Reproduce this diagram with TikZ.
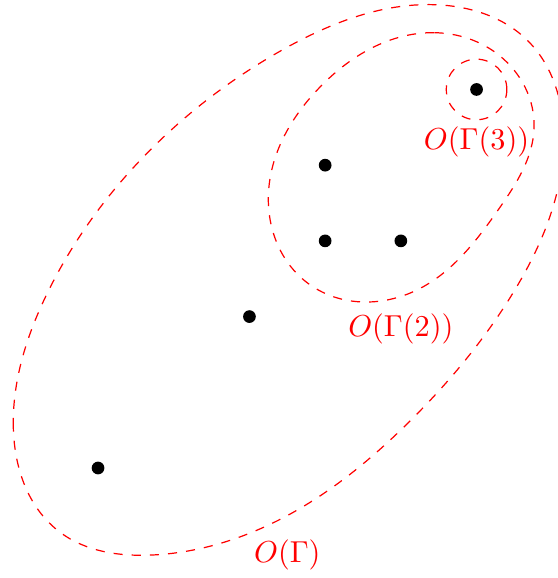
\documentclass[tikz,border=0pt]{standalone}
\usepackage{tikz}
\usetikzlibrary{positioning,calc,hobby}
\tikzset{
  pt/.style={circle, fill=black, inner sep=0pt, minimum size=4.2pt},
  orbit/.style={red, dashed},
  lbl/.style={red}
}
\begin{document}
\begin{tikzpicture}[x=0.878cm, y=0.878cm, use Hobby shortcut]
            \useasboundingbox (-1.295,-1.453) rectangle (6.063,6.182);
            \node[pt] (p0) at (0,0) {};
            \node[pt] (p1) at (2,2) {};
            \node[pt] (p2) at (3,3) {};
            \node[pt] (p3) at (4,3) {};
            \node[pt] (p4) at (3,4) {};
            \node[pt] (p5) at (5,5) {};
            \draw[orbit, closed=true] (-1.12,0.6) .. (-0.5,-0.85) .. (0.7,-1.15) .. (2.46,-0.65) .. (4.1,0.6) .. (5.48,2.31) .. (6.15,4.3) .. (5.7,5.62) .. (4.44,6.12) .. (2.43,5.52) .. (0.78,4.29) .. (-0.67,2.31);
            \draw[orbit, closed=true] (4.44,5.75) .. (2.93,5.03) .. (2.25,3.6) .. (2.8,2.42) .. (4.21,2.35) .. (5.3,3.43) .. (5.76,4.5) .. (5.3,5.45);
            \draw[orbit] (p5) circle (0.4);
            \node[lbl] (lab3) at (5,4.31) {$O(\Gamma(3))$};
            \node[lbl] (lab2) at (4,1.84) {$O(\Gamma(2))$};
            \node[lbl] (lab1) at (2.5,-1.15) {$O(\Gamma)$};
        \end{tikzpicture}
\end{document}
